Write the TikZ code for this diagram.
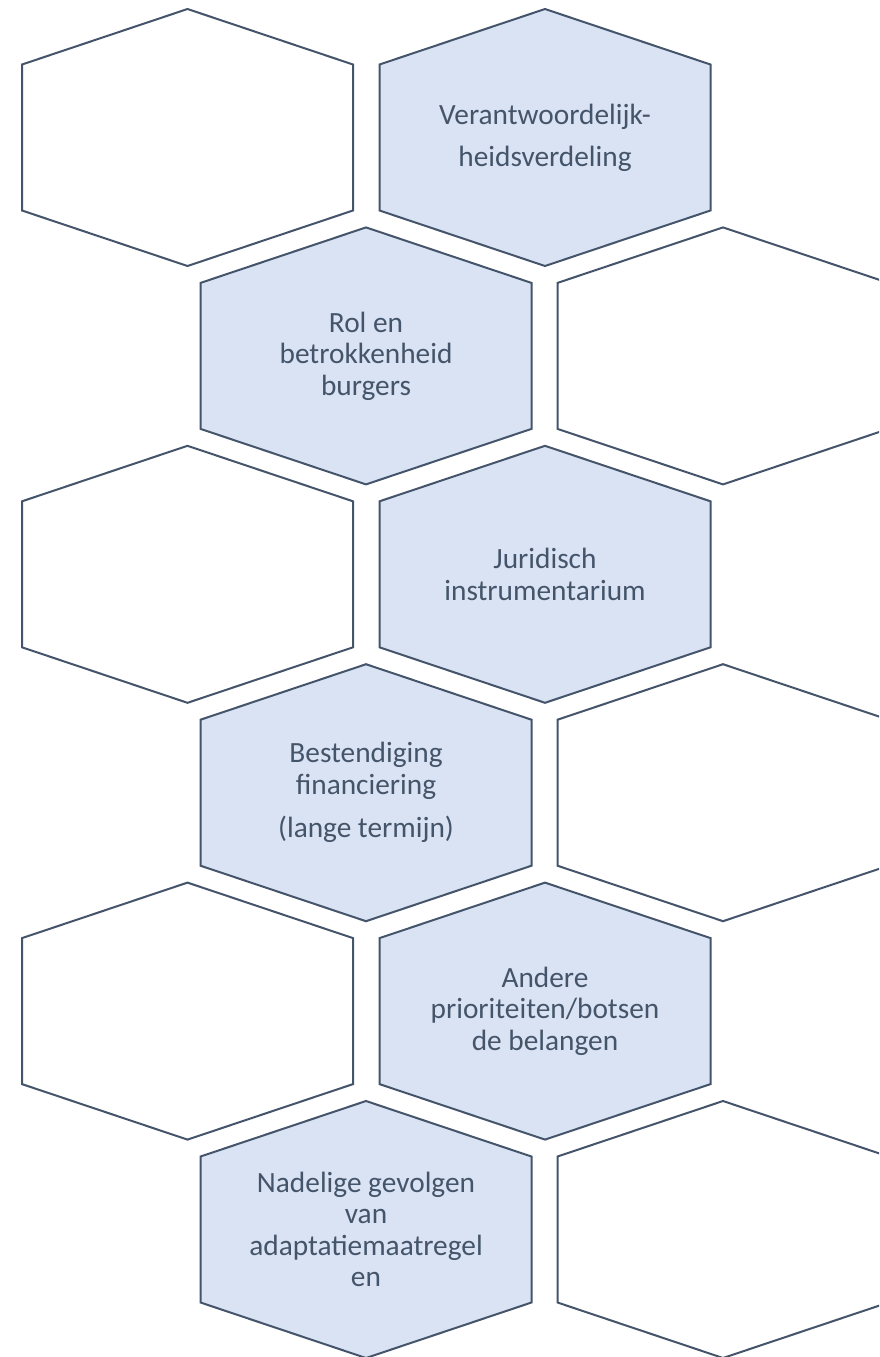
\documentclass[tikz,border=0pt]{standalone}
\usepackage{fontspec}
\setmainfont{Carlito}
\definecolor{slate}{HTML}{44546A}
\definecolor{paleblue}{HTML}{DAE3F3}
\begin{document}
\begin{tikzpicture}[x=0.75pt,y=-0.75pt,
  cell/.style={draw=slate, line width=1.5pt, line join=miter},
  shaded/.style={cell, fill=paleblue},
  plain/.style={cell, fill=white},
  celltext/.style={text=slate, font=\fontsize{22}{23.6}\selectfont, align=center, inner sep=0pt}]
\useasboundingbox (0,0) rectangle (879,1357);
\clip (0,0) rectangle (879,1357);
% hexagon centres: two staggered columns per row
\coordinate (a1) at (187.5,137.5);  \coordinate (b1) at (545,137.5);
\coordinate (c2) at (366,355.9);    \coordinate (d2) at (723,355.9);
\coordinate (a3) at (187.5,574.3);  \coordinate (b3) at (545,574.3);
\coordinate (c4) at (366,792.7);    \coordinate (d4) at (723,792.7);
\coordinate (a5) at (187.5,1011.1); \coordinate (b5) at (545,1011.1);
\coordinate (c6) at (366,1229.5);   \coordinate (d6) at (723,1229.5);
% pointy-top hexagons
\foreach \c/\s in {a1/plain,b1/shaded,c2/shaded,d2/plain,a3/plain,b3/shaded,
                   c4/shaded,d4/plain,a5/plain,b5/shaded,c6/shaded,d6/plain}
  \draw[\s] (\c) ++(0,-128.5) -- ++(165.5,55.5) -- ++(0,146) -- ++(-165.5,55.5)
        -- ++(-165.5,-55.5) -- ++(0,-146) -- cycle;
% labels
\node[celltext] (t1) at (b1) {Verantwoordelijk-\\[8pt]heidsverdeling};
\node[celltext] (t2) at (c2) {Rol en\\betrokkenheid\\burgers};
\node[celltext] (t3) at (b3) {Juridisch\\instrumentarium};
\node[celltext] (t4) at (c4) {Bestendiging\\financiering\\[9pt](lange termijn)};
\node[celltext] (t5) at (b5) {Andere\\prioriteiten/botsen\\de belangen};
\node[celltext] (t6) at (c6) {Nadelige gevolgen\\van\\adaptatiemaatregel\\en};
\end{tikzpicture}
\end{document}
